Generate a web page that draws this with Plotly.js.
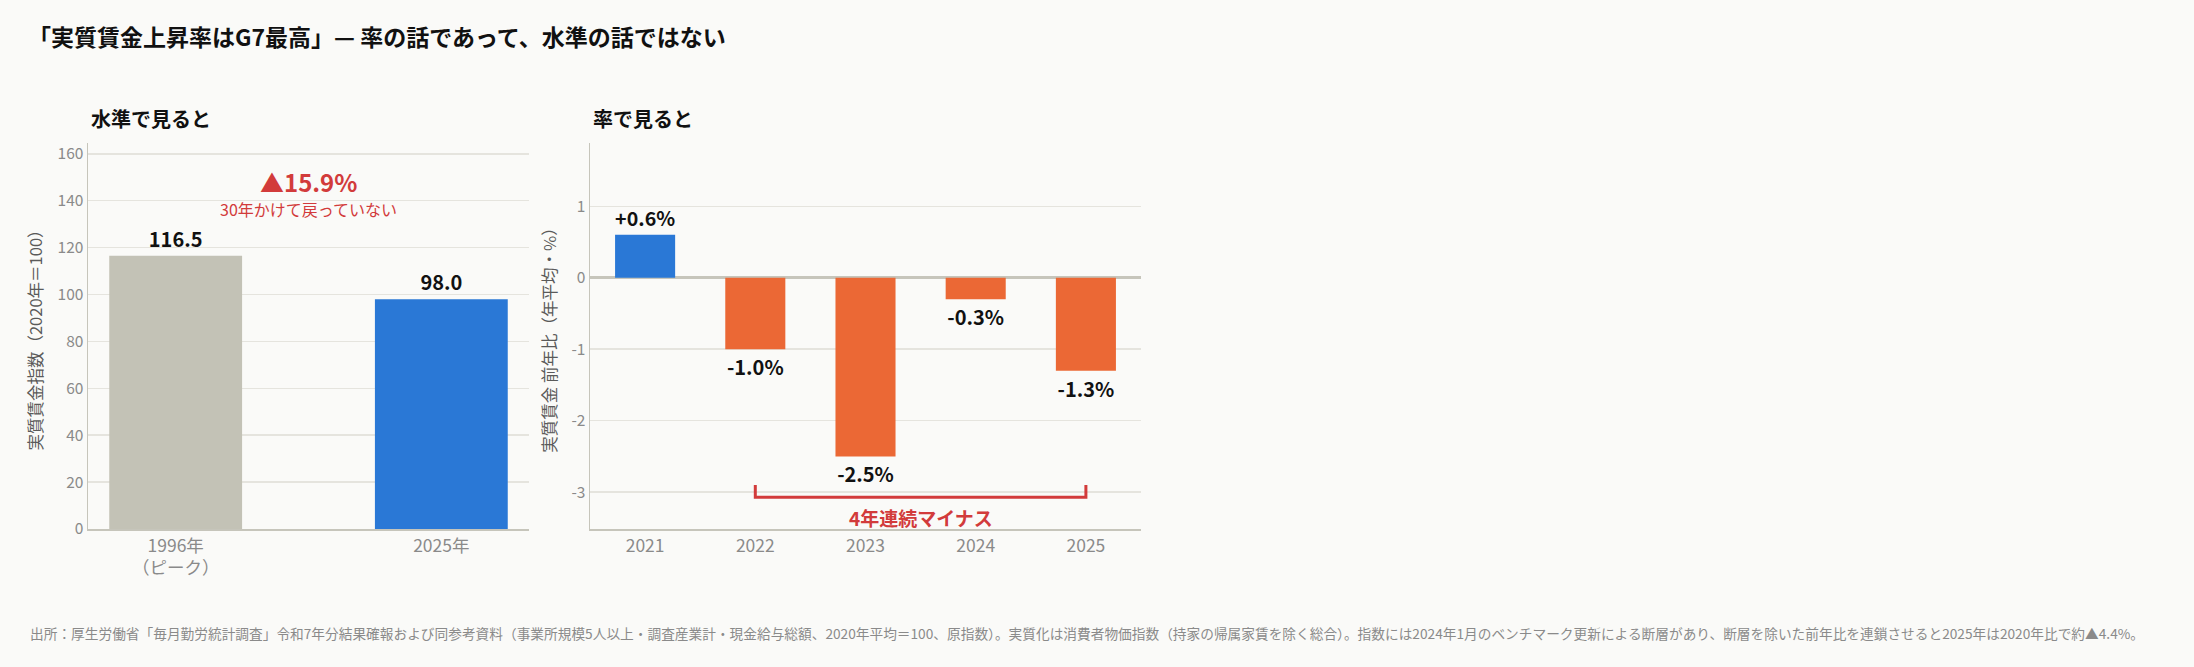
<!DOCTYPE html>
<html>
<head>
<meta charset="utf-8">
<script src="https://cdn.plot.ly/plotly-3.0.1.min.js"></script>
<style>
html,body{margin:0;padding:0;background:#fafaf8;}
#chart{width:2194px;height:667px;}
</style>
</head>
<body>
<div id="chart"></div>
<script>
// ---- data ----
const levelCategories = ['1996年<br>（ピーク）', '2025年'];
const levelValues = [116.5, 98.0];
const levelTicks = [0, 20, 40, 60, 80, 100, 120, 140, 160];

const rateYears = ['2021', '2022', '2023', '2024', '2025'];
const rateValues = [0.6, -1.0, -2.5, -0.3, -1.3];
const rateTicks = [-3, -2, -1, 0, 1];
const rateTickText = ['-3', '-2', '-1', '0', '1'];

const mainTitle = '「実質賃金上昇率はG7最高」— 率の話であって、水準の話ではない';
const leftSubtitle = '水準で見ると';
const rightSubtitle = '率で見ると';
const leftYTitle = '実質賃金指数（2020年＝100）';
const rightYTitle = '実質賃金 前年比（年平均・%）';
const gapNote = '30年かけて戻っていない';
const streakNote = '4年連続マイナス';
const footnote = '出所：厚生労働省「毎月勤労統計調査」令和7年分結果確報および同参考資料（事業所規模5人以上・調査産業計・現金給与総額、2020年平均＝100、原指数）。実質化は消費者物価指数（持家の帰属家賃を除く総合）。指数には2024年1月のベンチマーク更新による断層があり、断層を除いた前年比を連鎖させると2025年は2020年比で約▲4.4%。';

// ---- style ----
const FONT = '"Noto Sans CJK JP", "Noto Sans", sans-serif';
const BG = '#fafaf8';
const GREY_BAR = '#c3c2b6';
const BLUE = '#2a78d6';
const ORANGE = '#eb6835';
const RED = '#d23b3b';
const GRID = '#e5e4de';
const AXIS = '#c6c5bb';
const TICK = '#8a8a8a';

const W = 2194, H = 667;
const L = 88, R = 1141, T = 143, B = 529;
const px = x => (x - L) / (R - L);
const py = y => (B - y) / (B - T);

const levelText = levelValues.map(v => v.toFixed(1));
const rateText = rateValues.map(v => (v > 0 ? '+' : '') + v.toFixed(1) + '%');
const rateColors = rateValues.map(v => v >= 0 ? BLUE : ORANGE);
const change = (levelValues[1] / levelValues[0] - 1) * 100;
const changeText = (change < 0 ? '▲' : '+') + Math.abs(change).toFixed(1) + '%';

// streak of negatives (last run)
let streakEnd = rateValues.length - 1;
let streakStart = streakEnd;
while (streakStart > 0 && rateValues[streakStart - 1] < 0) streakStart--;

const labelFont = {family: FONT, size: 20, color: '#111', weight: 700};

const traces = [
  {
    type: 'bar', x: levelCategories, y: levelValues,
    xaxis: 'x', yaxis: 'y',
    marker: {color: [GREY_BAR, BLUE]},
    width: 0.5,
    text: levelText, textposition: 'outside', textfont: labelFont,
    cliponaxis: false, hoverinfo: 'skip', showlegend: false
  },
  {
    type: 'bar', x: rateYears, y: rateValues,
    xaxis: 'x2', yaxis: 'y2',
    marker: {color: rateColors},
    width: 0.545,
    text: rateText, textposition: 'outside', textfont: labelFont,
    cliponaxis: false, hoverinfo: 'skip', showlegend: false
  }
];

const bracketY = -3.07, bracketTop = -2.9;

const layout = {
  width: W, height: H,
  paper_bgcolor: BG, plot_bgcolor: BG,
  margin: {l: L, r: W - R, t: T, b: H - B},
  font: {family: FONT, color: '#333'},
  title: {
    text: mainTitle, xref: 'container', yref: 'container',
    x: 28 / W, xanchor: 'left', y: 1 - 38 / H, yanchor: 'middle',
    font: {family: FONT, size: 23, color: '#111', weight: 700}
  },
  xaxis: {
    domain: [0, px(529)], type: 'category', range: [-0.33, 1.33],
    showline: true, linecolor: AXIS, linewidth: 1.5,
    showgrid: false, ticks: '', tickfont: {size: 17.5, color: TICK, family: FONT},
    fixedrange: true
  },
  yaxis: {
    domain: [0, 1], range: [0, 164.6], tickvals: levelTicks,
    showline: true, linecolor: AXIS, linewidth: 1.5,
    showgrid: true, gridcolor: GRID, gridwidth: 1.5, zeroline: false,
    ticks: '', tickfont: {size: 15.5, color: TICK, family: FONT},
    title: {text: leftYTitle, font: {size: 16.5, color: '#5a5a5a', family: FONT}, standoff: 11},
    fixedrange: true
  },
  xaxis2: {
    domain: [px(590), 1], type: 'category', range: [-0.5, 4.5],
    anchor: 'y2',
    showline: true, linecolor: AXIS, linewidth: 1.5,
    showgrid: false, ticks: '', tickfont: {size: 17.5, color: TICK, family: FONT},
    fixedrange: true
  },
  yaxis2: {
    domain: [0, 1], anchor: 'x2', range: [-3.515, 1.885],
    tickvals: rateTicks, ticktext: rateTickText,
    showline: true, linecolor: AXIS, linewidth: 1.5,
    showgrid: true, gridcolor: GRID, gridwidth: 1.5,
    zeroline: true, zerolinecolor: AXIS, zerolinewidth: 2.5,
    ticks: '', tickfont: {size: 15.5, color: TICK, family: FONT},
    title: {text: rightYTitle, font: {size: 16.5, color: '#5a5a5a', family: FONT}, standoff: 10},
    fixedrange: true
  },
  shapes: [
    {
      type: 'path', xref: 'x2', yref: 'y2',
      path: `M ${streakStart},${bracketTop} L ${streakStart},${bracketY} L ${streakEnd},${bracketY} L ${streakEnd},${bracketTop}`,
      line: {color: RED, width: 3}
    }
  ],
  annotations: [
    {text: leftSubtitle, xref: 'paper', yref: 'paper', x: px(89), y: py(118),
     xanchor: 'left', yanchor: 'middle', showarrow: false,
     font: {size: 20, color: '#111', family: FONT, weight: 700}},
    {text: rightSubtitle, xref: 'paper', yref: 'paper', x: px(591), y: py(118),
     xanchor: 'left', yanchor: 'middle', showarrow: false,
     font: {size: 20, color: '#111', family: FONT, weight: 700}},
    {text: changeText, xref: 'paper', yref: 'paper', x: px(308.5), y: py(181),
     xanchor: 'center', yanchor: 'middle', showarrow: false,
     font: {size: 24, color: RED, family: FONT, weight: 700}},
    {text: gapNote, xref: 'paper', yref: 'paper', x: px(308.5), y: py(209),
     xanchor: 'center', yanchor: 'middle', showarrow: false,
     font: {size: 16, color: RED, family: FONT}},
    {text: streakNote, xref: 'x2', yref: 'y2', x: (streakStart + streakEnd) / 2, y: -3.35,
     xanchor: 'center', yanchor: 'middle', showarrow: false,
     font: {size: 19, color: RED, family: FONT, weight: 700}},
    {text: footnote, xref: 'paper', yref: 'paper', x: px(28), y: py(633),
     xanchor: 'left', yanchor: 'middle', showarrow: false,
     font: {size: 13.7, color: '#8a8a8a', family: FONT}}
  ]
};

Plotly.newPlot('chart', traces, layout, {displayModeBar: false, staticPlot: true});
</script>
</body>
</html>
